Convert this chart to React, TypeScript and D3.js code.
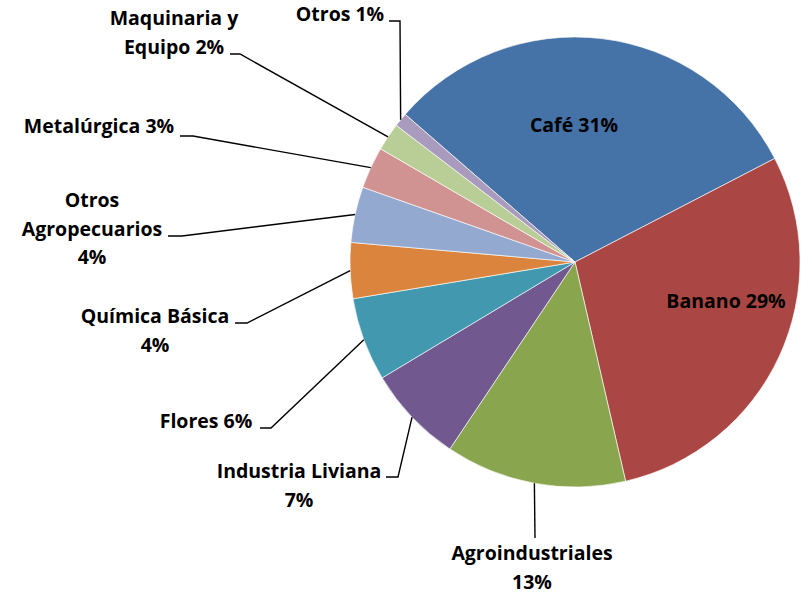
import React from "react";
import * as d3 from "d3";

const categories = [
  "Café",
  "Banano",
  "Agroindustriales",
  "Industria Liviana",
  "Flores",
  "Química Básica",
  "Otros Agropecuarios",
  "Metalúrgica",
  "Maquinaria y Equipo",
  "Otros",
];
const values = [31, 29, 13, 7, 6, 4, 4, 3, 2, 1];
const labelLines = [
  ["Café 31%"],
  ["Banano 29%"],
  ["Agroindustriales", "13%"],
  ["Industria Liviana", "7%"],
  ["Flores 6%"],
  ["Química Básica", "4%"],
  ["Otros", "Agropecuarios", "4%"],
  ["Metalúrgica 3%"],
  ["Maquinaria y", "Equipo 2%"],
  ["Otros 1%"],
];
const colors = [
  "#4572A7",
  "#AA4643",
  "#89A54E",
  "#71588F",
  "#4198AF",
  "#DB843D",
  "#93A9CF",
  "#D19392",
  "#B9CD96",
  "#A99BBD",
];

// layout: label center x, first baseline y, leader elbow path (label side)
const labelLayout: { x: number; y: number; leader: [number, number][] }[] = [
  { x: 574, y: 132, leader: [] },
  { x: 726, y: 308, leader: [] },
  { x: 532, y: 560, leader: [[535, 538]] },
  { x: 299, y: 478, leader: [[386, 477], [398, 477]] },
  { x: 206, y: 428, leader: [[260, 428], [271, 428]] },
  { x: 155, y: 323, leader: [[235, 323], [247, 323]] },
  { x: 92, y: 207, leader: [[168, 236], [182, 236]] },
  { x: 99, y: 133, leader: [[180, 136], [193, 136]] },
  { x: 174, y: 25, leader: [[230, 54], [240, 54]] },
  { x: 340, y: 21, leader: [[389, 21], [400, 21]] },
];

const W = 807;
const H = 594;
const cx = 575;
const cy = 262;
const R = 225;
const startDeg = -49;

export default function App() {
  const pie = d3
    .pie<number>()
    .sort(null)
    .value((d) => d)
    .startAngle((startDeg * Math.PI) / 180)
    .endAngle((startDeg * Math.PI) / 180 + 2 * Math.PI);
  const arcs = pie(values);
  const arc = d3.arc<d3.PieArcDatum<number>>().innerRadius(0).outerRadius(R);
  const lineH = 28.5;

  return (
    <svg
      width={W}
      height={H}
      style={{ position: "absolute", left: 0, top: 0, background: "#fff" }}
      fontFamily="'Open Sans', 'Noto Sans', sans-serif"
      fontWeight="bold"
      fontSize={19.5}
    >
      <g transform={`translate(${cx},${cy})`}>
        {arcs.map((a, i) => (
          <path
            key={categories[i]}
            d={arc(a) || ""}
            fill={colors[i]}
            stroke="#fff"
            strokeWidth={0.8}
            strokeOpacity={0.8}
          />
        ))}
      </g>
      {arcs.map((a, i) => {
        const lay = labelLayout[i];
        if (!lay.leader.length) return null;
        const mid = (a.startAngle + a.endAngle) / 2;
        const ex = cx + Math.sin(mid) * R;
        const ey = cy - Math.cos(mid) * R;
        const pts = [...lay.leader, [ex, ey]];
        const d = d3.line()(pts as [number, number][]) || "";
        return (
          <path
            key={"l" + i}
            d={d}
            fill="none"
            stroke="#000"
            strokeWidth={1.4}
          />
        );
      })}
      {labelLines.map((lines, i) => (
        <text
          key={"t" + i}
          x={labelLayout[i].x}
          y={labelLayout[i].y}
          textAnchor="middle"
          fill="#000"
        >
          {lines.map((ln, j) => (
            <tspan key={j} x={labelLayout[i].x} dy={j === 0 ? 0 : lineH}>
              {ln}
            </tspan>
          ))}
        </text>
      ))}
    </svg>
  );
}
